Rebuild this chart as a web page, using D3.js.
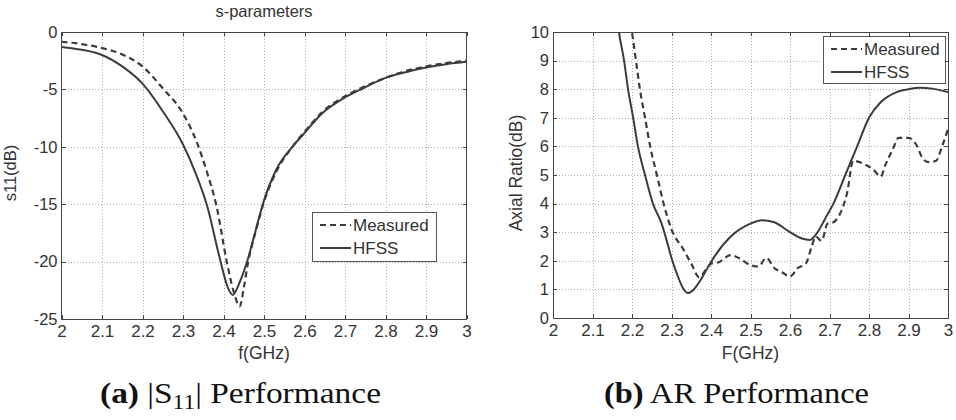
<!DOCTYPE html>
<html>
<head>
<meta charset="utf-8">
<title>S11 and AR performance</title>
<script src="https://cdnjs.cloudflare.com/ajax/libs/d3/7.8.5/d3.min.js"></script>
<style>
    body { margin: 0; background: #fff; }
    .axis path { display: none; }
    .axis line { stroke: #444; shape-rendering: crispEdges; }
    .axis text { font-family: "Liberation Sans", Arial, sans-serif; fill: #333; }
    .grid line { stroke: #b0b0b0; stroke-dasharray: 1, 2; shape-rendering: crispEdges; }
    .grid path { display: none; }
    .label { font-family: "Liberation Sans", Arial, sans-serif; fill: #333; }
    .caption { font-family: "Liberation Serif", "Times New Roman", serif; fill: #111; }
</style>
</head>
<body>
<svg id="chart" width="956" height="420"></svg>
<script>
    // frequency axis shared by both plots
    var freqTicks = [2, 2.1, 2.2, 2.3, 2.4, 2.5, 2.6, 2.7, 2.8, 2.9, 3];
    var freqTickLabels = ["2", "2.1", "2.2", "2.3", "2.4", "2.5", "2.6", "2.7", "2.8", "2.9", "3"];

    // (a) s11, dB  -- [GHz, dB]
    var s11Ticks = [0, -5, -10, -15, -20, -25];
    var s11TickLabels = ["0", "-5", "-10", "-15", "-20", "-25"];
    var s11Measured = [[2.0, -0.85], [2.05, -1.05], [2.1, -1.4], [2.15, -1.95], [2.2, -3.0], [2.25, -4.9],
        [2.3, -7.1], [2.334, -9.6], [2.36, -12.3], [2.383, -15.2], [2.408, -20.0], [2.425, -22.6],
        [2.44, -23.9], [2.45, -22.3], [2.46, -20.2], [2.48, -17.3], [2.5, -14.8], [2.53, -12.2],
        [2.57, -10.0], [2.6, -8.7], [2.64, -7.1], [2.7, -5.6], [2.745, -4.8], [2.8, -4.0],
        [2.85, -3.4], [2.9, -3.0], [2.95, -2.7], [3.0, -2.5]];
    var s11Hfss = [[2.0, -1.3], [2.05, -1.55], [2.1, -2.0], [2.15, -3.0], [2.2, -4.5], [2.25, -6.9],
        [2.3, -9.8], [2.33, -12.2], [2.36, -15.2], [2.39, -19.6], [2.41, -22.2], [2.423, -22.9],
        [2.44, -21.8], [2.46, -19.8], [2.48, -17.2], [2.497, -15.0], [2.53, -12.0], [2.57, -10.0],
        [2.6, -8.8], [2.64, -7.2], [2.7, -5.7], [2.745, -4.9], [2.8, -4.0], [2.85, -3.5],
        [2.9, -3.1], [2.95, -2.8], [3.0, -2.6]];

    // (b) axial ratio, dB  -- [GHz, dB]
    var arTicks = [0, 1, 2, 3, 4, 5, 6, 7, 8, 9, 10];
    var arTickLabels = ["0", "1", "2", "3", "4", "5", "6", "7", "8", "9", "10"];
    var arMeasured = [[2.19, 11.0], [2.2, 10.0], [2.21, 9.0], [2.22, 8.0], [2.233, 7.0], [2.246, 6.0],
        [2.263, 5.0], [2.28, 4.0], [2.3, 3.1], [2.33, 2.4], [2.35, 1.9], [2.37, 1.43], [2.39, 1.75],
        [2.4, 1.9], [2.42, 1.95], [2.45, 2.2], [2.47, 2.1], [2.5, 1.85], [2.52, 1.8], [2.54, 2.1],
        [2.56, 1.75], [2.58, 1.6], [2.6, 1.45], [2.62, 1.75], [2.64, 1.9], [2.655, 2.5], [2.665, 2.85],
        [2.68, 2.7], [2.695, 3.3], [2.71, 3.35], [2.725, 3.6], [2.745, 4.4], [2.76, 5.5], [2.785, 5.4],
        [2.81, 5.2], [2.83, 4.95], [2.84, 5.3], [2.86, 5.9], [2.875, 6.3], [2.9, 6.3], [2.92, 6.05],
        [2.935, 5.6], [2.95, 5.45], [2.97, 5.5], [2.985, 6.0], [3.0, 6.6]];
    var arHfss = [[2.16, 10.8], [2.167, 10.0], [2.18, 9.0], [2.19, 8.0], [2.203, 7.0], [2.215, 6.0],
        [2.233, 5.0], [2.253, 4.0], [2.275, 3.3], [2.29, 2.6], [2.3, 2.1], [2.315, 1.5], [2.33, 1.02],
        [2.342, 0.87], [2.355, 0.98], [2.37, 1.25], [2.385, 1.6], [2.4, 1.96], [2.45, 2.85], [2.5, 3.3],
        [2.53, 3.42], [2.56, 3.35], [2.6, 3.0], [2.63, 2.78], [2.65, 2.73], [2.67, 3.0], [2.69, 3.5],
        [2.71, 4.0], [2.74, 5.0], [2.77, 6.0], [2.8, 7.0], [2.83, 7.55], [2.87, 7.9], [2.9, 8.0],
        [2.93, 8.05], [2.96, 8.02], [3.0, 7.9]];

    var svg = d3.select("#chart");
    var lineColor = "#3c3c3c";

    function drawPanel(p) {
        var g = svg.append("g");
        var w = p.right - p.left;
        var h = p.bottom - p.top;
        var x = d3.scaleLinear().domain([2, 3]).range([p.left, p.right]);
        var y = d3.scaleLinear().domain(p.yDomain).range([p.bottom, p.top]);

        g.append("rect")
            .attr("x", p.left).attr("y", p.top)
            .attr("width", w).attr("height", h)
            .attr("fill", "#fff");

        // dotted grid
        g.append("g")
            .attr("class", "grid")
            .attr("transform", "translate(0," + p.bottom + ")")
            .call(d3.axisBottom(x).tickValues(freqTicks.slice(1, -1)).tickSize(-h).tickFormat(""));
        g.append("g")
            .attr("class", "grid")
            .attr("transform", "translate(" + p.left + ",0)")
            .call(d3.axisLeft(y).tickValues(p.yTicks.slice(1, -1)).tickSize(-w).tickFormat(""));

        // curves
        g.append("clipPath").attr("id", p.id + "-clip")
            .append("rect")
            .attr("x", p.left).attr("y", p.top)
            .attr("width", w).attr("height", h);

        var line = d3.line()
            .x(function (d) { return x(d[0]); })
            .y(function (d) { return y(d[1]); })
            .curve(d3.curveMonotoneX);

        g.append("path")
            .datum(p.hfss)
            .attr("clip-path", "url(#" + p.id + "-clip)")
            .attr("d", line)
            .attr("fill", "none")
            .attr("stroke", lineColor)
            .attr("stroke-width", 2);
        g.append("path")
            .datum(p.measured)
            .attr("clip-path", "url(#" + p.id + "-clip)")
            .attr("d", line)
            .attr("fill", "none")
            .attr("stroke", lineColor)
            .attr("stroke-width", 2.2)
            .attr("stroke-dasharray", "6,4");

        // axes with inward ticks
        g.append("g")
            .attr("class", "axis")
            .attr("transform", "translate(0," + p.bottom + ")")
            .call(d3.axisBottom(x).tickValues(freqTicks).tickSize(-4).tickPadding(6)
                .tickFormat(function (d, i) { return freqTickLabels[i]; }))
            .selectAll("text").style("font-size", "17px");
        g.append("g")
            .attr("class", "axis")
            .attr("transform", "translate(0," + p.top + ")")
            .call(d3.axisTop(x).tickValues(freqTicks).tickSize(-4).tickFormat(""));
        g.append("g")
            .attr("class", "axis")
            .attr("transform", "translate(" + p.left + ",0)")
            .call(d3.axisLeft(y).tickValues(p.yTicks).tickSize(-4).tickPadding(4)
                .tickFormat(function (d, i) { return p.yTickLabels[i]; }))
            .selectAll("text").style("font-size", "16.5px");
        g.append("g")
            .attr("class", "axis")
            .attr("transform", "translate(" + p.right + ",0)")
            .call(d3.axisRight(y).tickValues(p.yTicks).tickSize(-4).tickFormat(""));

        g.append("rect")
            .attr("x", p.left).attr("y", p.top)
            .attr("width", w).attr("height", h)
            .attr("fill", "none")
            .attr("stroke", "#444")
            .attr("stroke-width", 1)
            .attr("shape-rendering", "crispEdges");

        // labels
        g.append("text")
            .attr("class", "label")
            .attr("x", (p.left + p.right) / 2)
            .attr("y", 359)
            .attr("text-anchor", "middle")
            .style("font-size", "17.5px")
            .text(p.xLabel);
        g.append("text")
            .attr("class", "label")
            .attr("transform", "translate(" + p.yLabelX + ",173) rotate(-90)")
            .attr("text-anchor", "middle")
            .style("font-size", p.yLabelSize)
            .text(p.yLabel);

        // legend
        var lg = g.append("g").attr("transform", "translate(" + p.legend[0] + "," + p.legend[1] + ")");
        lg.append("rect")
            .attr("width", p.legend[2]).attr("height", p.legend[3])
            .attr("fill", "#fff")
            .attr("stroke", "#555")
            .attr("stroke-width", 1)
            .attr("shape-rendering", "crispEdges");
        var entries = [{ name: "Measured", dash: "6,4", dy: 13 }, { name: "HFSS", dash: null, dy: 36 }];
        entries.forEach(function (e) {
            lg.append("line")
                .attr("x1", 8).attr("x2", 39)
                .attr("y1", e.dy).attr("y2", e.dy)
                .attr("stroke", lineColor)
                .attr("stroke-width", 2)
                .attr("stroke-dasharray", e.dash);
            lg.append("text")
                .attr("class", "label")
                .attr("x", 41)
                .attr("y", e.dy + 6)
                .style("font-size", "17px")
                .text(e.name);
        });
    }

    drawPanel({
        id: "s11", left: 61.5, right: 466.5, top: 32, bottom: 319,
        yDomain: [-25, 0], yTicks: s11Ticks, yTickLabels: s11TickLabels,
        measured: s11Measured, hfss: s11Hfss,
        xLabel: "f(GHz)", yLabel: "s11(dB)", yLabelX: 16, yLabelSize: "16.5px",
        legend: [312, 212, 124, 49]
    });

    drawPanel({
        id: "ar", left: 553, right: 948, top: 32, bottom: 318,
        yDomain: [0, 10], yTicks: arTicks, yTickLabels: arTickLabels,
        measured: arMeasured, hfss: arHfss,
        xLabel: "F(GHz)", yLabel: "Axial Ratio(dB)", yLabelX: 522, yLabelSize: "17.5px",
        legend: [823, 36, 122, 47]
    });

    svg.append("text")
        .attr("class", "label")
        .attr("x", 264)
        .attr("y", 17)
        .attr("text-anchor", "middle")
        .style("font-size", "16.5px")
        .text("s-parameters");

    // figure captions
    var capA = svg.append("text")
        .attr("class", "caption")
        .attr("x", 100).attr("y", 403)
        .attr("textLength", 281)
        .attr("lengthAdjust", "spacingAndGlyphs")
        .style("font-size", "30px");
    capA.append("tspan").attr("font-weight", "bold").text("(a)");
    capA.append("tspan").text(" |S");
    capA.append("tspan").attr("dy", 6).style("font-size", "21px").text("11");
    capA.append("tspan").attr("dy", -6).text("| Performance");

    var capB = svg.append("text")
        .attr("class", "caption")
        .attr("x", 604).attr("y", 403)
        .attr("textLength", 265)
        .attr("lengthAdjust", "spacingAndGlyphs")
        .style("font-size", "30px");
    capB.append("tspan").attr("font-weight", "bold").text("(b)");
    capB.append("tspan").text(" AR Performance");
</script>
</body>
</html>
